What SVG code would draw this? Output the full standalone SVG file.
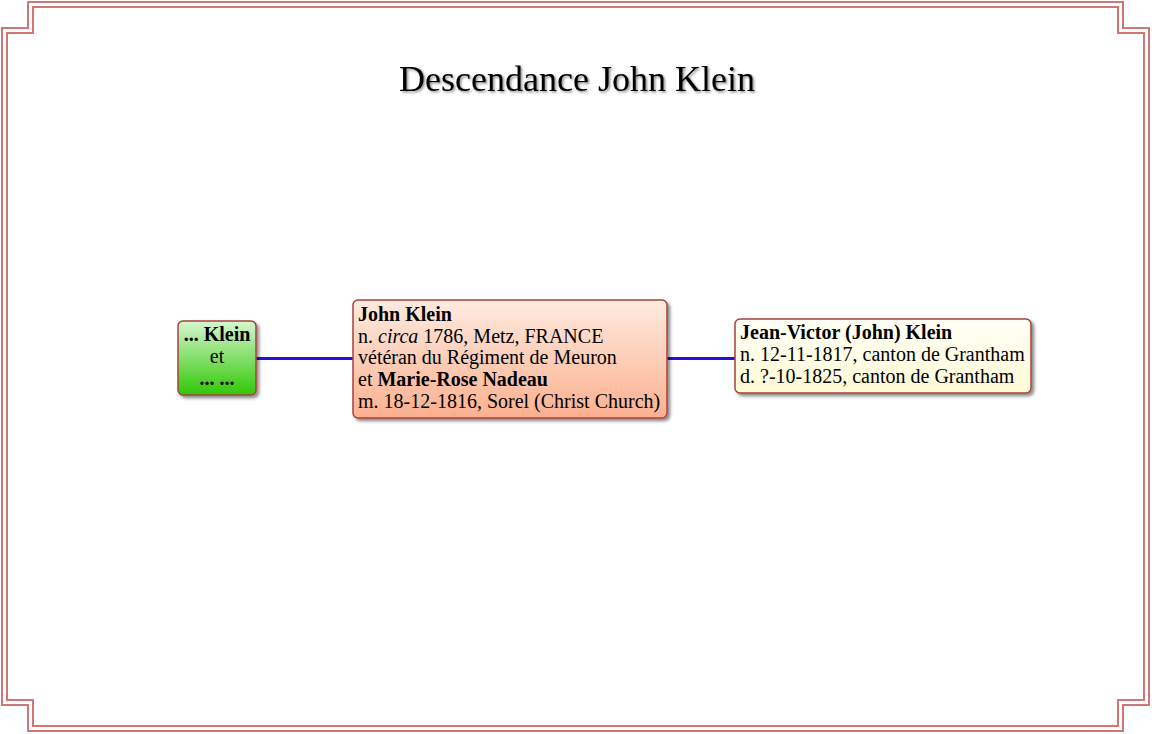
<svg xmlns="http://www.w3.org/2000/svg" width="1152" height="734" viewBox="0 0 1152 734">
<style>
.border{fill:none;stroke:#cf7676;stroke-width:2}
.box{stroke:#a8403c;stroke-width:1.5}
.t{font-family:"Liberation Serif","Times New Roman",serif;font-size:20px;fill:#000}
.b{font-weight:bold}
.title{font-family:"Liberation Serif","Times New Roman",serif;font-size:36px;fill:#000}
.conn{stroke:#2a0ce0;stroke-width:3;fill:none}
</style>
<defs>
<linearGradient id="gGreen" x1="0" y1="0" x2="0" y2="1">
<stop offset="0" stop-color="#d6f6cf"/>
<stop offset="1" stop-color="#30c805"/>
</linearGradient>
<linearGradient id="gSalmon" x1="0" y1="0" x2="0" y2="1">
<stop offset="0" stop-color="#feebe0"/>
<stop offset="1" stop-color="#fcb08f"/>
</linearGradient>
<linearGradient id="gYellow" x1="0" y1="0" x2="0" y2="1">
<stop offset="0" stop-color="#fffff6"/>
<stop offset="1" stop-color="#fffbd6"/>
</linearGradient>
<filter id="sh" x="-10%" y="-10%" width="130%" height="140%">
<feDropShadow dx="2.5" dy="2.5" stdDeviation="1.6" flood-color="#000" flood-opacity="0.45"/>
</filter>
<filter id="tsh" x="-5%" y="-20%" width="110%" height="150%">
<feDropShadow dx="1.5" dy="1.5" stdDeviation="1.2" flood-color="#000" flood-opacity="0.45"/>
</filter>
</defs>
<rect width="1152" height="734" fill="#fff"/>
<g id="frame">
<path class="border" d="M28,2 H1123 V28 H1149 V705 H1123 V731 H28 V705 H2 V28 H28 Z"/>
<path class="border" d="M33,7 H1118 V33 H1144 V700 H1118 V726 H33 V700 H7 V33 H33 Z"/>
</g>
<text class="title" x="577" y="91" text-anchor="middle" filter="url(#tsh)">Descendance John Klein</text>
<g id="connectors">
<line class="conn" x1="256" y1="358.5" x2="353" y2="358.5"/>
<line class="conn" x1="667" y1="358.5" x2="735" y2="358.5"/>
</g>
<g id="node-parents">
<rect class="box" x="178" y="321" width="78" height="74" rx="5" fill="url(#gGreen)" filter="url(#sh)"/>
<text class="t b" x="217" y="341" text-anchor="middle">... Klein</text>
<text class="t" x="217" y="363" text-anchor="middle">et</text>
<text class="t b" x="217" y="385" text-anchor="middle">... ...</text>
</g>
<g id="node-john">
<rect class="box" x="353" y="300" width="314" height="118" rx="5" fill="url(#gSalmon)" filter="url(#sh)"/>
<text class="t" x="358" y="321"><tspan class="b">John Klein</tspan></text>
<text class="t" x="358" y="342.5">n. <tspan font-style="italic">circa</tspan> 1786, Metz, FRANCE</text>
<text class="t" x="358" y="364">vétéran du Régiment de Meuron</text>
<text class="t" x="358" y="385.5">et <tspan class="b">Marie-Rose Nadeau</tspan></text>
<text class="t" x="358" y="407.5">m. 18-12-1816, Sorel (Christ Church)</text>
</g>
<g id="node-jean-victor">
<rect class="box" x="735" y="319" width="296" height="74" rx="5" fill="url(#gYellow)" filter="url(#sh)"/>
<text class="t b" x="740" y="339">Jean-Victor (John) Klein</text>
<text class="t" x="740" y="361">n. 12-11-1817, canton de Grantham</text>
<text class="t" x="740" y="383">d. ?-10-1825, canton de Grantham</text>
</g>
</svg>
